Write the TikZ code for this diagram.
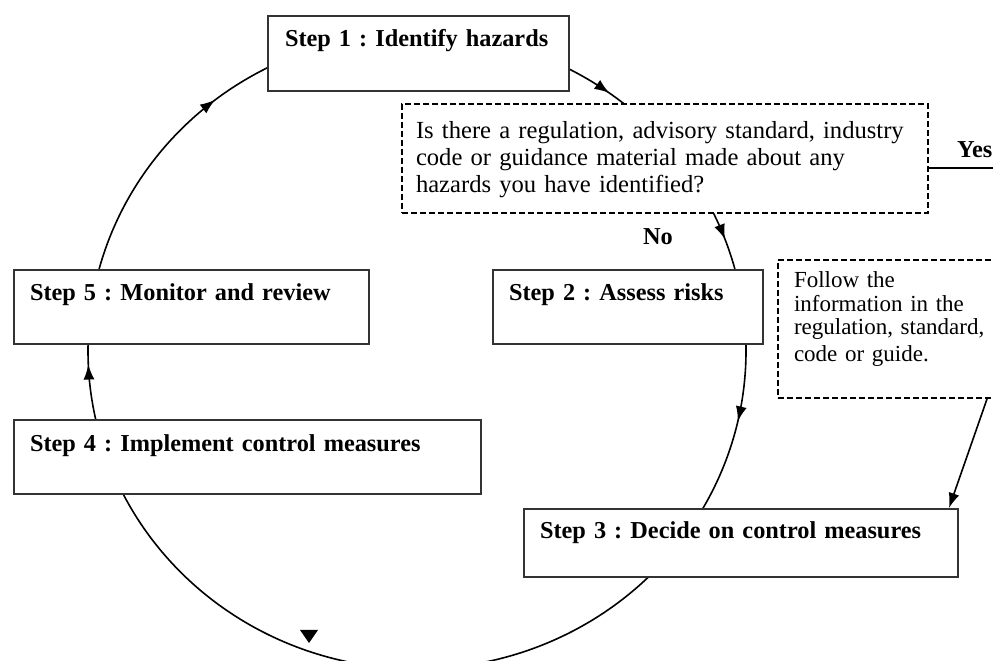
\documentclass[tikz,border=0pt]{standalone}
\usepackage{fontspec}
\setmainfont{Liberation Serif}
\usetikzlibrary{arrows.meta,decorations.markings,calc}
\begin{document}
\frenchspacing
\hyphenpenalty=10000
\begin{tikzpicture}[x=1pt,y=1pt,
  stepbox/.style={draw=black!80, line width=2pt, fill=white, font=\fontsize{24.3}{28}\selectfont\bfseries, inner ysep=0pt, inner xsep=16pt, anchor=north west, align=left},
  qbox/.style={draw, line width=2pt, dash pattern=on 6pt off 3pt, fill=white, inner ysep=0pt, anchor=north west, align=left},
  flow/.style={line width=1.6pt},
  tip/.style={-{Latex[length=15pt,width=11pt]}},
  midarrow/.style={postaction={decorate}, decoration={markings, mark=at position #1 with {\arrow{Latex[length=15pt,width=11pt]}}}},
  lbl/.style={font=\fontsize{24.3}{28}\selectfont\bfseries, inner sep=0pt}
]
\useasboundingbox (0,0) rectangle (993,661);
\clip (0,0) rectangle (993,661);
\coordinate (c) at (417,310);
% cycle arcs (ellipse), drawn first so the boxes cover their ends
\coordinate (a1) at ($(c)+(64:329pt and 318pt)$);
\coordinate (a2) at ($(c)+(27:329pt and 318pt)$);
\coordinate (a3) at ($(c)+(3:329pt and 318pt)$);
\coordinate (a4) at ($(c)+(-43:329pt and 318pt)$);
\coordinate (a5) at ($(c)+(194:329pt and 318pt)$);
\coordinate (a6) at ($(c)+(167:329pt and 318pt)$);
\draw[flow, midarrow=0.7] (a1) arc[start angle=64, end angle=50, x radius=329pt, y radius=318pt];
\draw[flow, midarrow=0.46] (a2) arc[start angle=27, end angle=13, x radius=329pt, y radius=318pt];
\draw[flow, midarrow=0.45] (a3) arc[start angle=3, end angle=-32, x radius=329pt, y radius=318pt];
\draw[flow] (a4) arc[start angle=-43, end angle=-156, x radius=329pt, y radius=318pt];
\draw[flow, midarrow=0.68] (a5) arc[start angle=194, end angle=177, x radius=329pt, y radius=318pt];
\draw[flow, midarrow=0.75] (a6) arc[start angle=167, end angle=115, x radius=329pt, y radius=318pt];
\fill (300,31) -- (318,31) -- (309,18) -- cycle;
% boxes
\node[stepbox, inner xsep=17pt, text width=267pt, text height=31pt, text depth=44pt] (s1) at (267,646) {Step 1 : Identify hazards};
\node[qbox, inner xsep=14pt, text width=498pt, text height=35pt, text depth=74pt, font=\fontsize{24.6}{27}\selectfont] (q) at (401,558)
  {Is there a regulation, advisory standard, industry\\code or guidance material made about any\\hazards you have identified?};
\node[stepbox, text width=238pt, text height=31pt, text depth=43pt] (s2) at (492,392) {Step 2 : Assess risks};
\node[qbox, inner xsep=16pt, text width=208pt, text height=28pt, text depth=110pt, font=\fontsize{23}{23.5}\selectfont] (f) at (777,402)
  {Follow the\\information in the\\regulation, standard,\\[3pt]code or guide.};
\node[stepbox, text width=402pt, text height=30pt, text depth=38pt] (s3) at (523,153) {Step 3 : Decide on control measures};
\node[stepbox, text width=435pt, text height=32pt, text depth=42pt] (s4) at (13,242) {Step 4 : Implement control measures};
\node[stepbox, text width=323pt, text height=31pt, text depth=43pt] (s5) at (13,392) {Step 5 : Monitor and review};
% labels
\node[lbl, anchor=base west] (yes) at (957,503) {Yes};
\node[lbl, anchor=base] (no) at (658,416) {No};
% other connectors
\coordinate (yesend) at (1000,493);
\draw[flow] (yesend -| q.east) -- (yesend);
\draw[flow, tip] ([xshift=210pt]f.south west) -- ([xshift=-10pt]s3.north east);
\end{tikzpicture}
\end{document}
